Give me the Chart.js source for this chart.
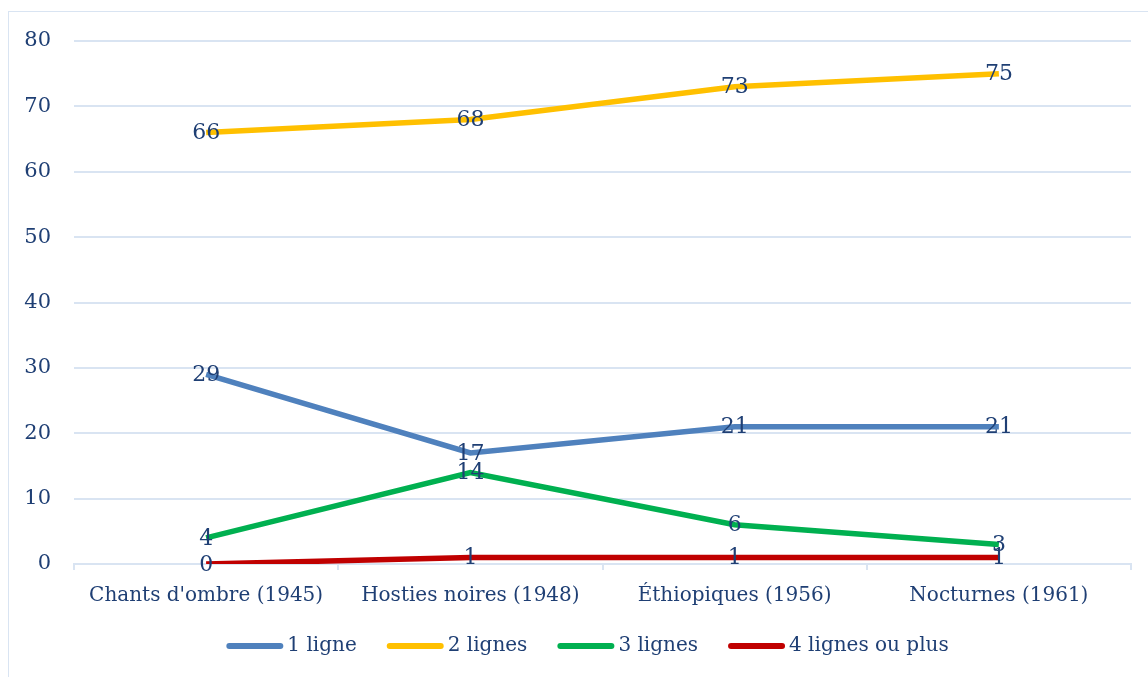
<!DOCTYPE html>
<html>
<head>
<meta charset="utf-8">
<script src="https://cdn.jsdelivr.net/npm/chart.js@4/dist/chart.umd.min.js"></script>
<style>
  html, body { margin: 0; padding: 0; background: #ffffff; }
  #wrap { position: relative; width: 1148px; height: 677px; }
  canvas { display: block; }
</style>
</head>
<body>
<div id="wrap"><canvas id="c" width="1148" height="677"></canvas></div>
<script>
const categories = ["Chants d'ombre (1945)", "Hosties noires (1948)", "Éthiopiques (1956)", "Nocturnes (1961)"];
const seriesNames = ["1 ligne", "2 lignes", "3 lignes", "4 lignes ou plus"];
const uneLigne = [29, 17, 21, 21];
const deuxLignes = [66, 68, 73, 75];
const troisLignes = [4, 14, 6, 3];
const quatreLignes = [0, 1, 1, 1];
const seriesColors = ["#4f81bd", "#ffc000", "#00b050", "#c00000"];
const yTicks = [0, 10, 20, 30, 40, 50, 60, 70, 80];

const TEXT = "#1f3f74";
const GRID = "#d9e4f2";
const FONT = "'DejaVu Serif', serif";

const allSeries = [uneLigne, deuxLignes, troisLignes, quatreLignes];

const borderPlugin = {
  id: 'outerBorder',
  beforeDraw(chart) {
    const ctx = chart.ctx;
    ctx.save();
    ctx.strokeStyle = GRID;
    ctx.lineWidth = 1;
    ctx.strokeRect(8.5, 11.5, 1200, 700);
    ctx.restore();
  }
};

const labelPlugin = {
  id: 'pointLabels',
  afterDatasetsDraw(chart) {
    const ctx = chart.ctx;
    ctx.save();
    ctx.font = "22px " + FONT;
    ctx.fillStyle = TEXT;
    ctx.textAlign = 'center';
    ctx.textBaseline = 'middle';
    chart.data.datasets.forEach((ds, i) => {
      const meta = chart.getDatasetMeta(i);
      meta.data.forEach((pt, j) => {
        ctx.fillText(String(ds.data[j]), pt.x, pt.y + 1);
      });
    });
    ctx.restore();
  }
};

const legendPlugin = {
  id: 'customLegend',
  afterDraw(chart) {
    const ctx = chart.ctx;
    ctx.save();
    ctx.font = "20px " + FONT;
    const lineW = 57, gapText = 4, gapItem = 30;
    let total = 0;
    const widths = seriesNames.map(n => ctx.measureText(n).width);
    widths.forEach((w, i) => { total += lineW + gapText + w + (i < widths.length - 1 ? gapItem : 0); });
    let x = (chart.chartArea.left + chart.chartArea.right) / 2 - total / 2 - 15;
    const y = 646;
    ctx.textBaseline = 'middle';
    ctx.textAlign = 'left';
    seriesNames.forEach((n, i) => {
      ctx.strokeStyle = seriesColors[i];
      ctx.lineWidth = 6;
      ctx.lineCap = 'round';
      ctx.beginPath();
      ctx.moveTo(x + 3, y);
      ctx.lineTo(x + lineW - 3, y);
      ctx.stroke();
      ctx.fillStyle = TEXT;
      ctx.fillText(n, x + lineW + gapText, y);
      x += lineW + gapText + widths[i] + gapItem;
    });
    ctx.restore();
  }
};

const datasets = allSeries.map((s, i) => ({
  label: seriesNames[i],
  data: s,
  borderColor: seriesColors[i],
  backgroundColor: seriesColors[i],
  borderWidth: 5.5,
  pointRadius: 0,
  pointHoverRadius: 0,
  tension: 0,
  fill: false,
  order: allSeries.length - i
}));

new Chart(document.getElementById('c'), {
  type: 'line',
  data: { labels: categories, datasets },
  options: {
    responsive: false,
    animation: false,
    events: [],
    layout: { padding: { left: 0, right: 17, top: 41, bottom: 63 } },
    plugins: {
      legend: { display: false },
      tooltip: { enabled: false }
    },
    scales: {
      x: {
        offset: true,
        grid: {
          offset: true,
          drawOnChartArea: false,
          drawTicks: true,
          tickLength: 6,
          color: GRID,
          lineWidth: 2
        },
        border: { display: true, color: GRID, width: 2 },
        ticks: {
          color: TEXT,
          font: { family: FONT, size: 20 },
          padding: 14,
          maxRotation: 0,
          autoSkip: false
        },
        afterFit(scale) { scale.height = 50; }
      },
      y: {
        min: 0,
        max: 80,
        afterBuildTicks(scale) { scale.ticks = yTicks.map(v => ({ value: v })); },
        grid: { color: GRID, lineWidth: 2, drawTicks: false },
        border: { display: false },
        ticks: {
          color: TEXT,
          font: { family: FONT, size: 21 },
          padding: 23
        },
        afterFit(scale) { scale.width = 74; }
      }
    }
  },
  plugins: [borderPlugin, labelPlugin, legendPlugin]
});
</script>
</body>
</html>
